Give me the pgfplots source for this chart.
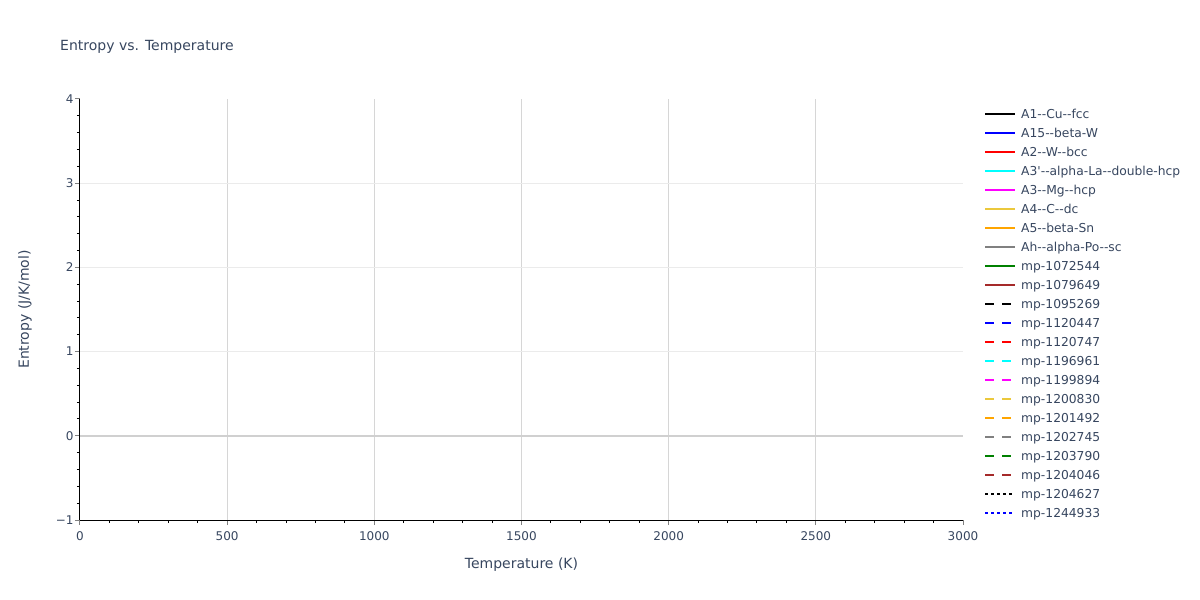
\documentclass[border=0pt]{standalone}
\usepackage{fontspec}
\setmainfont{DejaVu Sans}[Ligatures=TeXOff]
\usepackage{pgfplots}
\pgfplotsset{compat=1.18}

\definecolor{txt}{RGB}{55,70,95}
\definecolor{vgrid}{RGB}{214,214,214}
\definecolor{hgrid}{RGB}{235,235,235}
\definecolor{zline}{RGB}{208,208,208}
\definecolor{cblack}{RGB}{0,0,0}
\definecolor{cblue}{RGB}{0,0,255}
\definecolor{cred}{RGB}{255,0,0}
\definecolor{ccyan}{RGB}{0,255,255}
\definecolor{cmagenta}{RGB}{255,0,255}
\definecolor{cgold}{RGB}{235,200,60}
\definecolor{corange}{RGB}{255,165,0}
\definecolor{cgray}{RGB}{128,128,128}
\definecolor{cgreen}{RGB}{0,128,0}
\definecolor{cbrown}{RGB}{165,42,42}

\begin{document}
\begin{tikzpicture}
\path[use as bounding box] (0pt,0pt) rectangle (1200pt,600pt);
\node[anchor=base west, inner sep=0pt, text=txt, font=\fontsize{14}{16}\selectfont]
  at (60pt,549pt) {Entropy vs. Temperature};
\begin{axis}[
    at={(80pt,80pt)}, anchor=south west,
    scale only axis, width=883pt, height=421pt,
    xmin=0, xmax=3000, ymin=-1, ymax=4,
    axis x line*=bottom, axis y line*=left,
    axis line style={black, line width=1pt},
    xtick={0,500,...,3000},
    xticklabels={0,500,1000,1500,2000,2500,3000},
    ytick={-1,0,...,4},
    yticklabels={−1,0,1,2,3,4},
    minor x tick num=4, minor y tick num=4,
    tick align=outside,
    major tick length=5pt, minor tick length=3pt,
    every major tick/.style={cgray, line width=1pt},
    every minor tick/.style={black, line width=1pt},
    extra x ticks={500,1000,1500,2000,2500},
    extra x tick labels={},
    extra x tick style={grid=major, major tick length=0pt, major grid style={vgrid, line width=1pt}},
    extra y ticks={1,2,3},
    extra y tick labels={},
    extra y tick style={grid=major, major tick length=0pt, major grid style={hgrid, line width=1pt}},
    tick label style={text=txt, font=\fontsize{12}{14}\selectfont},
    xticklabel style={yshift=-3pt},
    yticklabel style={xshift=2pt},
    label style={text=txt, font=\fontsize{14}{16}\selectfont},
    xlabel={Temperature (K)},
    ylabel={Entropy (J/K/mol)},
    xlabel style={at={(axis description cs:0.5,-0.106)}, anchor=center},
    ylabel style={at={(axis description cs:-0.0623,0.5)}, anchor=center},
    legend style={at={(1,1)}, anchor=north west, xshift=21pt, yshift=-9pt,
        draw=none, fill=none, inner sep=0pt, row sep=0pt, column sep=5pt,
        font=\fontsize{12.3}{14}\selectfont, text=txt,
        nodes={inner sep=0pt, text height=10pt, text depth=9pt},
        cells={anchor=west}},
    legend image code/.code={\draw[line width=2pt, #1] (0pt,4pt) -- (30pt,4pt);},
]
\draw[zline, line width=2pt] (axis cs:0,0) -- (axis cs:3000,0);

\addlegendimage{cblack}\addlegendentry{A1--Cu--fcc}
\addlegendimage{cblue}\addlegendentry{A15--beta-W}
\addlegendimage{cred}\addlegendentry{A2--W--bcc}
\addlegendimage{ccyan}\addlegendentry{A3'--alpha-La--double-hcp}
\addlegendimage{cmagenta}\addlegendentry{A3--Mg--hcp}
\addlegendimage{cgold}\addlegendentry{A4--C--dc}
\addlegendimage{corange}\addlegendentry{A5--beta-Sn}
\addlegendimage{cgray}\addlegendentry{Ah--alpha-Po--sc}
\addlegendimage{cgreen}\addlegendentry{mp-1072544}
\addlegendimage{cbrown}\addlegendentry{mp-1079649}
\addlegendimage{cblack, dash pattern=on 9pt off 8pt}\addlegendentry{mp-1095269}
\addlegendimage{cblue, dash pattern=on 9pt off 8pt}\addlegendentry{mp-1120447}
\addlegendimage{cred, dash pattern=on 9pt off 8pt}\addlegendentry{mp-1120747}
\addlegendimage{ccyan, dash pattern=on 9pt off 8pt}\addlegendentry{mp-1196961}
\addlegendimage{cmagenta, dash pattern=on 9pt off 8pt}\addlegendentry{mp-1199894}
\addlegendimage{cgold, dash pattern=on 9pt off 8pt}\addlegendentry{mp-1200830}
\addlegendimage{corange, dash pattern=on 9pt off 8pt}\addlegendentry{mp-1201492}
\addlegendimage{cgray, dash pattern=on 9pt off 8pt}\addlegendentry{mp-1202745}
\addlegendimage{cgreen, dash pattern=on 9pt off 8pt}\addlegendentry{mp-1203790}
\addlegendimage{cbrown, dash pattern=on 9pt off 8pt}\addlegendentry{mp-1204046}
\addlegendimage{cblack, dash pattern=on 3pt off 3pt}\addlegendentry{mp-1204627}
\addlegendimage{cblue, dash pattern=on 3pt off 3pt}\addlegendentry{mp-1244933}
\end{axis}
\end{tikzpicture}
\end{document}
